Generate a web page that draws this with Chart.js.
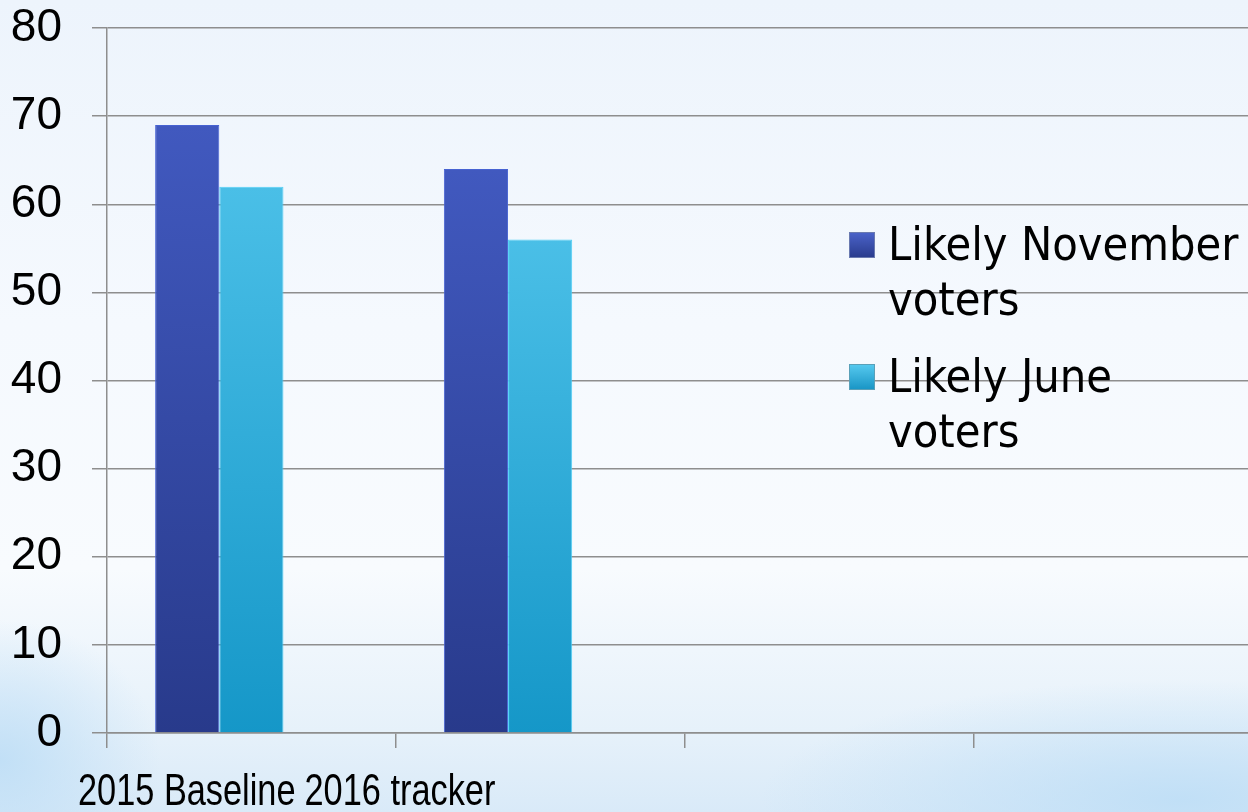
<!DOCTYPE html>
<html>
<head>
<meta charset="utf-8">
<title>Likely voters</title>
<script src="https://cdn.jsdelivr.net/npm/chart.js@4/dist/chart.umd.min.js"></script>
<style>
    html, body {
        margin: 0;
        padding: 0;
        width: 1248px;
        height: 812px;
        overflow: hidden;
    }
    body {
        position: relative;
        background:
            radial-gradient(ellipse 420px 120px at 1180px 800px, rgba(190, 222, 246, 0.9), rgba(190, 222, 246, 0) 100%),
            radial-gradient(ellipse 160px 140px at 0px 760px, rgba(190, 222, 246, 0.9), rgba(190, 222, 246, 0) 100%),
            linear-gradient(180deg, #edf4fc 0%, #f5f9fe 40%, #f8fbfe 70%, #e6f1fa 90%, #d9eaf8 100%);
    }
    #chartBox {
        position: absolute;
        left: 0;
        top: 0;
        width: 1262px;
        height: 812px;
    }
    #legend {
        position: absolute;
        left: 849px;
        top: 217px;
        font-family: "DejaVu Sans Condensed", "DejaVu Sans", sans-serif;
        font-stretch: condensed;
        font-size: 46.5px;
        line-height: 55px;
        color: #000;
    }
    .legend-item {
        display: flex;
        align-items: flex-start;
        margin-bottom: 22px;
    }
    .legend-box {
        width: 26px;
        height: 26px;
        margin-top: 15px;
        margin-right: 13px;
        box-sizing: border-box;
        flex: none;
    }
    .legend-text {
        max-width: 360px;
    }
</style>
</head>
<body>
<div id="chartBox"><canvas id="votersChart" width="1262" height="812"></canvas></div>
<div id="legend"></div>

<script>
    const categories = ['2015 Baseline', '2016 tracker', '', ''];
    const novemberVoters = [69, 64, null, null];
    const juneVoters = [62, 56, null, null];
    const emptySeries = [null, null, null, null];   // third (empty) series keeps the bar spacing
    const seriesLabels = ['Likely November voters', 'Likely June voters'];

    const yMin = 0;
    const yMax = 80;
    const yStep = 10;

    const gridGray = '#8e8e8e';
    const labelSqueeze = 0.78;   // category labels are drawn narrow in the original

    // vertical gradient for each bar, from its top down to zero
    function barGradient(topColor, bottomColor) {
        return function (context) {
            const chart = context.chart;
            if (!chart.chartArea || context.raw == null) return bottomColor;
            const yScale = chart.scales.y;
            const g = chart.ctx.createLinearGradient(0, yScale.getPixelForValue(context.raw), 0, yScale.getPixelForValue(0));
            g.addColorStop(0, topColor);
            g.addColorStop(1, bottomColor);
            return g;
        };
    }

    const seriesStyles = [
        { top: '#4159bf', bottom: '#283a8b', border: '#4763d2', legend: 'linear-gradient(#4a62c8, #2a3c8e)', legendBorder: '#6a7ab0' },
        { top: '#4abfe7', bottom: '#1597c8', border: '#4fd0f6', legend: 'linear-gradient(#55c8ee, #1a96c6)', legendBorder: '#5aa0b8' }
    ];

    const seriesData = [novemberVoters, juneVoters];

    const datasets = seriesData.map((data, i) => ({
        label: seriesLabels[i],
        data: data,
        backgroundColor: barGradient(seriesStyles[i].top, seriesStyles[i].bottom),
        borderColor: seriesStyles[i].border,
        borderWidth: 1,
        borderSkipped: 'bottom'
    }));
    datasets.push({ label: '', data: emptySeries, backgroundColor: 'rgba(0,0,0,0)' });

    // category labels, set one after another below the axis
    const categoryLabelsPlugin = {
        id: 'categoryLabels',
        afterDraw(chart) {
            const ctx = chart.ctx;
            const area = chart.chartArea;
            ctx.save();
            ctx.font = '44px "Liberation Sans", sans-serif';
            ctx.fillStyle = '#000';
            ctx.textAlign = 'left';
            ctx.textBaseline = 'alphabetic';
            let x = area.left - 29;
            categories.forEach(label => {
                if (!label) return;
                const w = ctx.measureText(label).width * labelSqueeze;
                ctx.save();
                ctx.translate(x, area.bottom + 72);
                ctx.scale(labelSqueeze, 1);
                ctx.fillText(label, 0, 0);
                ctx.restore();
                x += w + 9;
            });
            ctx.restore();
        }
    };

    new Chart(document.getElementById('votersChart'), {
        type: 'bar',
        data: { labels: categories, datasets: datasets },
        plugins: [categoryLabelsPlugin],
        options: {
            responsive: false,
            animation: false,
            layout: { padding: { top: 28, left: 0, right: 0, bottom: 0 } },
            datasets: { bar: { barPercentage: 1, categoryPercentage: 2 / 3 } },
            plugins: {
                legend: { display: false },
                tooltip: { enabled: false }
            },
            scales: {
                x: {
                    grid: {
                        drawOnChartArea: false,
                        drawTicks: true,
                        tickLength: 15,
                        color: gridGray,
                        lineWidth: 1.5,
                        offset: true
                    },
                    border: { display: true, color: gridGray, width: 1.5 },
                    ticks: { display: false },
                    afterFit: function (scale) { scale.height = 79; }
                },
                y: {
                    min: yMin,
                    max: yMax,
                    grid: { color: gridGray, lineWidth: 1.5, tickLength: 15 },
                    border: { display: true, color: gridGray, width: 1.5 },
                    ticks: {
                        stepSize: yStep,
                        color: '#000',
                        font: { family: '"Liberation Sans", sans-serif', size: 46 },
                        padding: 30
                    },
                    afterFit: function (scale) {
                        scale.width = 107;
                        // the label gap should not push the plot down
                        scale.paddingTop = 0;
                        scale.paddingBottom = 0;
                    }
                }
            }
        }
    });

    // legend drawn over the plot, like the original
    const legendEl = document.getElementById('legend');
    seriesLabels.forEach((label, i) => {
        const item = document.createElement('div');
        item.className = 'legend-item';
        const box = document.createElement('span');
        box.className = 'legend-box';
        box.style.background = seriesStyles[i].legend;
        box.style.border = '1px solid ' + seriesStyles[i].legendBorder;
        const text = document.createElement('span');
        text.className = 'legend-text';
        text.textContent = label;
        item.appendChild(box);
        item.appendChild(text);
        legendEl.appendChild(item);
    });
</script>
</body>
</html>
